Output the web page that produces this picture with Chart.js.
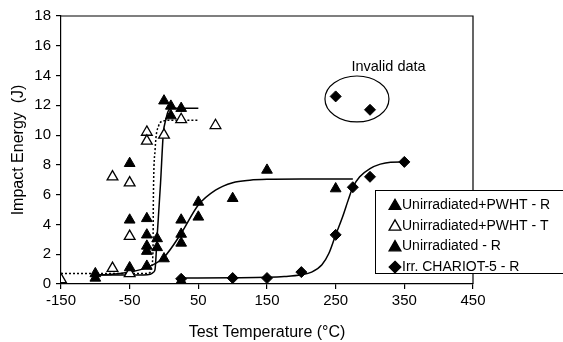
<!DOCTYPE html>
<html>
<head>
<meta charset="utf-8">
<script src="https://cdn.jsdelivr.net/npm/chart.js@4.4.1/dist/chart.umd.min.js"></script>
<style>
  body { margin: 0; background: #fff; }
  #wrap { width: 563px; height: 342px; }
</style>
</head>
<body>
<div id="wrap"><canvas id="impactChart"></canvas></div>
<script>
// measured points (temperature in °C, energy in J)
const pwhtR_T = [-100, -100, -50, -25, -10, -10, 0, 10, 10, 25];
const pwhtR_E = [0.4, 0.7, 1.1, 1.2, 3.05, 2.45, 12.3, 11.95, 11.3, 11.8];

const pwhtT_T = [-150, -75, -75, -50, -50, -50, -25, -25, 0, 25, 75];
const pwhtT_E = [0.3, 1.05, 7.2, 6.8, 3.2, 0.7, 10.2, 9.6, 10.0, 11.05, 10.65];

const unirrR_T = [-50, -50, -25, -25, -25, -25, 0, 25, 25, 25, 25, 50, 50, 100, 150, 250];
const unirrR_E = [8.1, 4.3, 4.4, 3.3, 2.55, 2.2, 1.7, 4.3, 3.35, 2.75, 0.2, 5.5, 4.5, 5.75, 7.65, 6.4];

const chariot_T = [25, 100, 150, 200, 250, 275, 300, 350, 250, 300];
const chariot_E = [0.35, 0.4, 0.4, 0.8, 3.3, 6.5, 7.2, 8.2, 12.6, 11.7];

// fitted curves
const fitPwhtR_T = [-100, -30, -20, -15, -13, -10, -5, -1, 3, 6, 12, 50];
const fitPwhtR_E = [0.6, 0.6, 0.65, 0.8, 1.0, 3.2, 6.8, 10.1, 11.1, 11.6, 11.8, 11.8];

const fitPwhtT_T = [-150, -25, -20, -18, -16, -15.5, -13, -8, -1, 10, 50];
const fitPwhtT_E = [0.7, 0.7, 0.8, 1.2, 2.3, 5.6, 9.0, 10.6, 10.95, 11.0, 11.0];

const fitUnirr_T = [-100, -75, -50, -25, 0, 25, 50, 75, 100, 125, 150, 200, 275];
const fitUnirr_E = [0.6, 0.65, 0.8, 1.1, 1.8, 3.4, 5.3, 6.3, 6.8, 6.97, 7.03, 7.05, 7.05];

const fitChariot_T = [25, 100, 150, 175, 200, 215, 230, 240, 250, 260, 268, 275, 285, 300, 315, 330, 350];
const fitChariot_E = [0.4, 0.42, 0.45, 0.5, 0.62, 0.8, 1.3, 2.05, 3.3, 4.5, 5.6, 6.5, 7.2, 7.75, 8.05, 8.18, 8.2];

const invalidLabel = 'Invalid data';
const invalidCentre = [281, 12.43];   // ellipse centre (T, E)
const invalidRadii = [46.6, 1.54];    // ellipse half axes (T, E)
const invalidText = [327, 14.6];

const FONT = "'Liberation Sans', Arial, sans-serif";
Chart.defaults.font.family = FONT;
Chart.defaults.color = '#000';

const zip = (xs, ys) => xs.map((x, i) => ({ x: x, y: ys[i] }));

function pointSet(label, xs, ys, style, filled) {
  return {
    label: label,
    data: zip(xs, ys),
    pointStyle: style,
    pointRadius: style === 'triangle' ? 6.2 : 5.5,
    backgroundColor: filled ? '#000' : '#fff',
    borderColor: '#000',
    borderWidth: filled ? 1 : 1.3,
    showLine: false,
    inLegend: true,
    order: 0
  };
}

function curve(xs, ys, dashed) {
  return {
    data: zip(xs, ys),
    showLine: true,
    pointRadius: 0,
    borderColor: '#000',
    borderWidth: 1.5,
    borderDash: dashed ? [2, 2] : [],
    cubicInterpolationMode: 'monotone',
    fill: false,
    order: 1
  };
}

function drawMarker(ctx, style, x, y, r, filled) {
  ctx.beginPath();
  if (style === 'triangle') {
    ctx.moveTo(x, y - r);
    ctx.lineTo(x + r * 0.866, y + r / 2);
    ctx.lineTo(x - r * 0.866, y + r / 2);
  } else {
    ctx.moveTo(x, y - r);
    ctx.lineTo(x + r, y);
    ctx.lineTo(x, y + r);
    ctx.lineTo(x - r, y);
  }
  ctx.closePath();
  ctx.fillStyle = filled ? '#000' : '#fff';
  ctx.fill();
  ctx.lineWidth = 1.3;
  ctx.strokeStyle = '#000';
  ctx.stroke();
}

const extras = {
  id: 'extras',
  afterDraw(chart) {
    const { ctx, chartArea: a, scales } = chart;
    const xs = scales.x, ys = scales.y;
    ctx.save();

    // frame top + right
    ctx.strokeStyle = '#000';
    ctx.lineWidth = 1.2;
    ctx.beginPath();
    ctx.moveTo(a.left, a.top);
    ctx.lineTo(a.right, a.top);
    ctx.lineTo(a.right, a.bottom);
    ctx.stroke();

    // invalid data ellipse + note
    const cx = xs.getPixelForValue(invalidCentre[0]);
    const cy = ys.getPixelForValue(invalidCentre[1]);
    const rx = xs.getPixelForValue(invalidCentre[0] + invalidRadii[0]) - cx;
    const ry = cy - ys.getPixelForValue(invalidCentre[1] + invalidRadii[1]);
    ctx.lineWidth = 1.2;
    ctx.beginPath();
    ctx.ellipse(cx, cy, rx, ry, 0, 0, Math.PI * 2);
    ctx.stroke();
    ctx.font = '14.5px ' + FONT;
    ctx.fillStyle = '#000';
    ctx.textAlign = 'center';
    ctx.textBaseline = 'middle';
    ctx.fillText(invalidLabel, xs.getPixelForValue(invalidText[0]), ys.getPixelForValue(invalidText[1]));

    // legend box
    const items = chart.data.datasets.filter(d => d.inLegend);
    const lx = a.right - 98, ly = a.bottom - 94;
    ctx.fillStyle = '#fff';
    ctx.fillRect(lx, ly, chart.width - lx, 83);
    ctx.lineWidth = 1;
    ctx.strokeRect(lx + 0.5, ly + 0.5, chart.width - lx, 83);
    ctx.font = '14px ' + FONT;
    ctx.textAlign = 'left';
    items.forEach((d, i) => {
      const y = ly + 15 + i * 20.7;
      drawMarker(ctx, d.pointStyle, lx + 20, y + (d.pointStyle === 'triangle' ? 1 : 0),
        d.pointStyle === 'triangle' ? 6.8 : 5.8, d.backgroundColor === '#000');
      ctx.fillStyle = '#000';
      ctx.fillText(d.label, lx + 27, y);
    });
    ctx.restore();
  }
};

new Chart(document.getElementById('impactChart'), {
  type: 'scatter',
  data: {
    datasets: [
      pointSet('Unirradiated+PWHT - R', pwhtR_T, pwhtR_E, 'triangle', true),
      pointSet('Unirradiated+PWHT - T', pwhtT_T, pwhtT_E, 'triangle', false),
      pointSet('Unirradiated - R', unirrR_T, unirrR_E, 'triangle', true),
      pointSet('Irr. CHARIOT-5 - R', chariot_T, chariot_E, 'rectRot', true),
      curve(fitPwhtR_T, fitPwhtR_E, false),
      curve(fitPwhtT_T, fitPwhtT_E, true),
      curve(fitUnirr_T, fitUnirr_E, false),
      curve(fitChariot_T, fitChariot_E, false)
    ]
  },
  options: {
    responsive: true,
    maintainAspectRatio: false,
    animation: false,
    layout: { padding: { top: 16, right: 90, left: 0, bottom: 0 } },
    plugins: {
      legend: { display: false },
      tooltip: { enabled: false }
    },
    scales: {
      x: {
        type: 'linear',
        min: -150,
        max: 450,
        afterFit: s => { s.height = 58; },
        ticks: { stepSize: 100, font: { size: 15 }, padding: 3 },
        grid: { drawOnChartArea: false, drawTicks: true, tickLength: 5, color: '#000', lineWidth: 1.2 },
        border: { display: true, color: '#000', width: 1.2 },
        title: { display: true, text: 'Test Temperature (°C)', font: { size: 16 }, padding: { top: 0, bottom: 0 } }
      },
      y: {
        min: 0,
        max: 18,
        afterFit: s => { s.width = 61; },
        ticks: { stepSize: 2, font: { size: 15 }, padding: 5 },
        grid: { drawOnChartArea: false, drawTicks: true, tickLength: 5, color: '#000', lineWidth: 1.2 },
        border: { display: true, color: '#000', width: 1.2 },
        title: { display: true, text: 'Impact Energy  (J)', font: { size: 16 }, padding: { top: 9, bottom: 9 } }
      }
    }
  },
  plugins: [extras]
});
</script>
</body>
</html>
